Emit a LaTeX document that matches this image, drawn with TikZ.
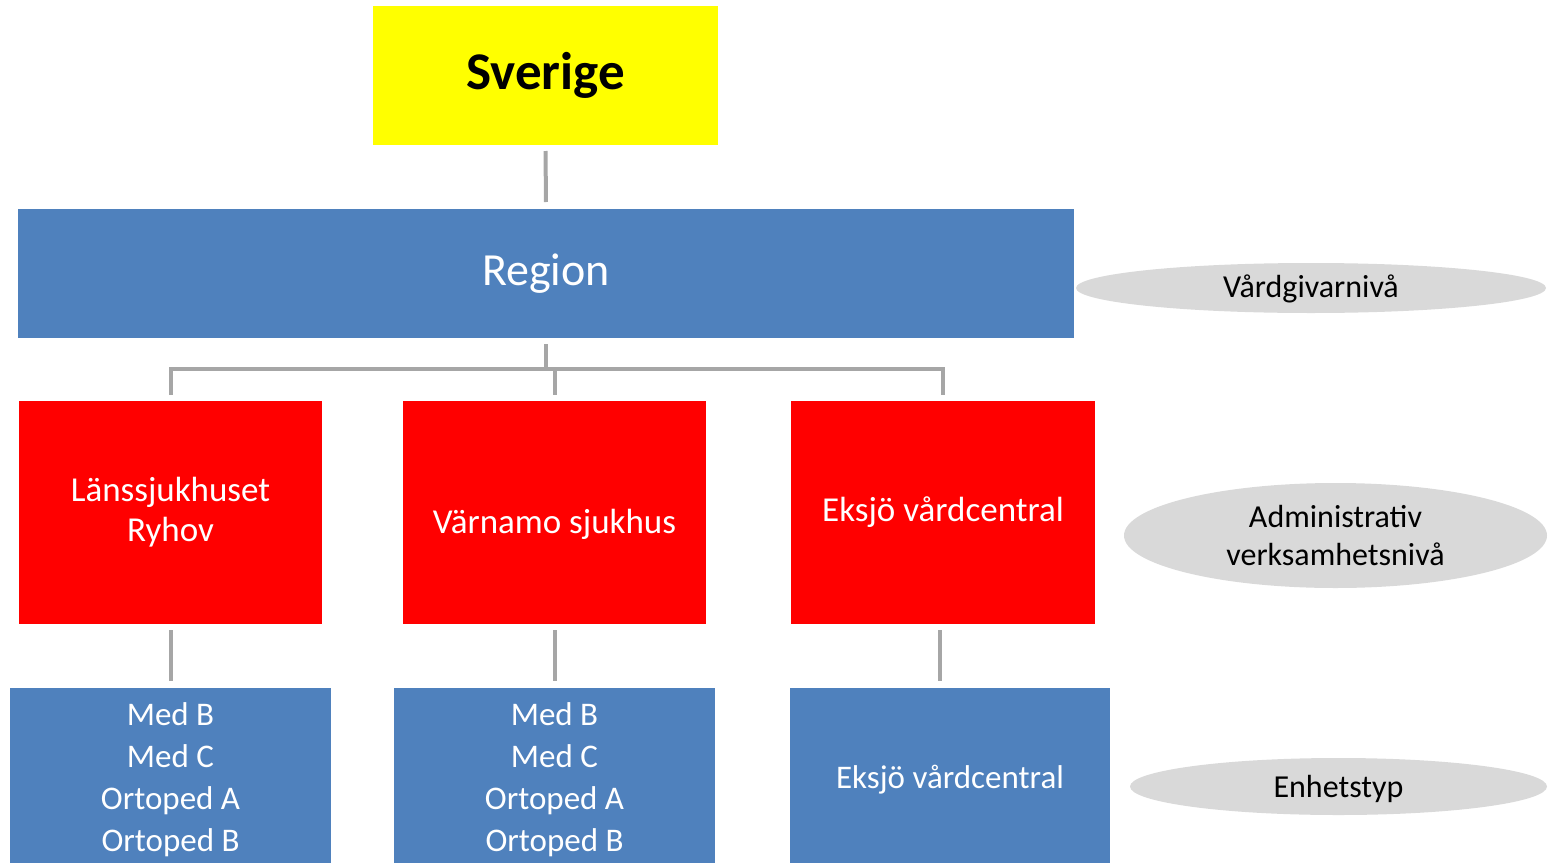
\documentclass[tikz,border=0pt]{standalone}
\usepackage{fontspec}
\setmainfont{Carlito}
\usetikzlibrary{shapes.geometric}
\definecolor{blueA}{HTML}{4F81BD}
\definecolor{grayL}{HTML}{A6A6A6}
\definecolor{ellG}{HTML}{D9D9D9}
\definecolor{yel}{HTML}{FFFF00}
\definecolor{redA}{HTML}{FF0000}
\begin{document}
\begin{tikzpicture}[x=1pt,y=-1pt,
  boxbase/.style={rectangle, draw=none, inner sep=0pt, outer sep=0pt, align=center},
  ybox/.style={boxbase, fill=yel, text=black},
  bbox/.style={boxbase, fill=blueA, text=white},
  rbox/.style={boxbase, fill=redA, text=white},
  lvl/.style={ellipse, draw=none, fill=ellG, inner sep=0pt, outer sep=0pt, align=center, text=black,
    font=\fontsize{32}{38}\selectfont},
  conn/.style={draw=grayL, line width=4pt},
  redfont/.style={font=\fontsize{35}{40}\selectfont},
  unitfont/.style={font=\fontsize{33}{42}\selectfont}]
\useasboundingbox (0,0) rectangle (1552,862);
\clip (0,0) rectangle (1552,862);

% top
\node[ybox, minimum width=345pt, minimum height=139pt, font=\fontsize{53}{60}\selectfont\bfseries]
  (sverige) at (545.5,75.5) {Sverige};
\node[bbox, minimum width=1056pt, minimum height=129pt, font=\fontsize{46}{52}\selectfont]
  (region) at (546,273.5) {Region};

% administrative level
\node[rbox, redfont, minimum width=303pt, minimum height=223pt] (red1) at (170.5,512.5) {Länssjukhuset\\Ryhov};
\node[rbox, minimum width=303pt, minimum height=223pt] (red2) at (554.5,512.5) {};
\node[redfont, text=white, inner sep=0pt] (red2t) at (554.5,524.5) {Värnamo sjukhus};
\node[rbox, redfont, minimum width=304pt, minimum height=223pt] (red3) at (943,512.5) {Eksjö vårdcentral};

% units
\node[bbox, unitfont, minimum width=321pt, minimum height=184pt] (blue1) at (170.5,780) {Med B\\Med C\\Ortoped A\\Ortoped B};
\node[bbox, unitfont, minimum width=321pt, minimum height=184pt] (blue2) at (554.5,780) {Med B\\Med C\\Ortoped A\\Ortoped B};
\node[bbox, unitfont, minimum width=320pt, minimum height=184pt] (blue3) at (950,780) {Eksjö vårdcentral};

% level labels
\node[lvl, minimum width=470pt, minimum height=50pt, text height=22pt, text depth=4pt] (lv1) at (1311,288) {Vårdgivarnivå};
\node[lvl, minimum width=423pt, minimum height=105pt] (lv2) at (1335.5,535.5) {Administrativ\\verksamhetsnivå};
\node[lvl, minimum width=417pt, minimum height=57pt, text height=23pt, text depth=2pt] (lv3) at (1338.5,786.5) {Enhetstyp};

% connectors
\draw[conn, shorten <=6pt, shorten >=7pt] (sverige.south) -- (region.south |- region.north);
\coordinate (bus) at (546,369);
\draw[conn, shorten <=6pt] (region.south) -- (region.south |- bus);
\draw[conn, shorten <=6pt, shorten >=6pt, line join=miter]
  (red1.north) -- (red1.north |- bus) -- (red3.north |- bus) -- (red3.north);
\draw[conn, shorten >=6pt] (red2.north |- bus) -- (red2.north);
\draw[conn, shorten <=6pt, shorten >=7pt] (red1.south) -- (red1.south |- blue1.north);
\draw[conn, shorten <=6pt, shorten >=7pt] (red2.south) -- (red2.south |- blue2.north);
\draw[conn, shorten <=6pt, shorten >=7pt] ([xshift=-3pt]red3.south) -- ([xshift=-3pt]red3.south |- blue3.north);
\end{tikzpicture}
\end{document}
